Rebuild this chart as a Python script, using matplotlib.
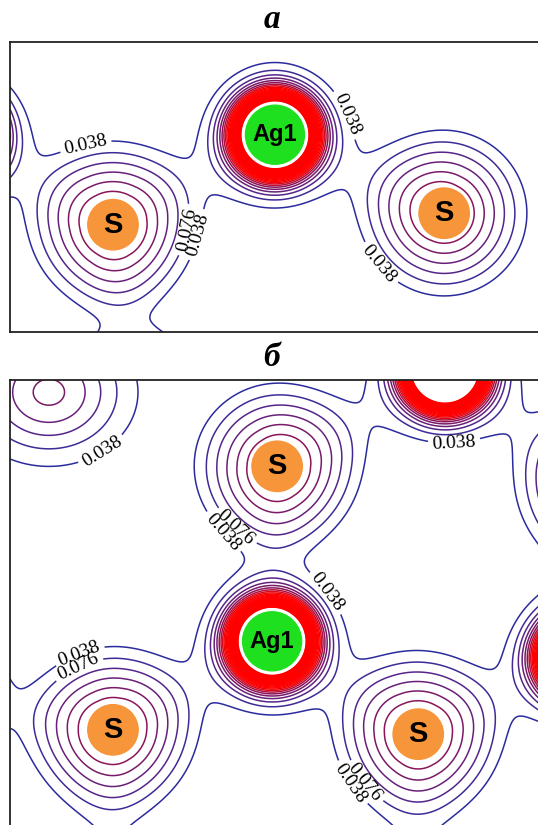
"""Electron density sections through the Ag-S layer (two planes)."""
import numpy as np
import matplotlib.pyplot as plt
from matplotlib.patches import Circle

plt.rcParams['font.family'] = ['Liberation Serif', 'DejaVu Serif']

# atom sites in the section planes, angstrom
# 'S*' is a sulfur slightly off the plane (no marker drawn)
a_kind = ['Ag', 'S', 'Ag', 'S', 'Ag']
a_x = [-0.76, 1.43, 3.68, 6.03, 1.74]
a_y = [2.74, 1.49, 2.74, 1.65, -1.01]
a_name = ['', 'S', 'Ag1', 'S', '']

b_kind = ['S*', 'S', 'Ag', 'S', 'Ag', 'Ag', 'S', 'S', 'Ag', 'Ag', 'Ag']
b_x = [0.54, 3.71, 6.04, 8.19, 3.64, 7.92, 1.43, 5.67, -1.11, 1.39, 5.63]
b_y = [6.22, 5.19, 6.54, 4.93, 2.76, 2.54, 1.53, 1.47, 2.08, -1.18, -1.18]
b_name = ['', 'S', '', '', 'Ag1', '', 'S', 'S', '', '', '']

# contour step, e/A^3
step = 0.038
n_levels = 30
levels = step * np.arange(1, n_levels + 1)

line_colors = ['#2b2b9e', '#402a96', '#55258a', '#68207a', '#7a1a68',
               '#8a1558', '#b0103c', '#d80a20', '#f00408'] + \
              ['#ff0000'] * (n_levels - 9)

# contour labels: (level index, x, y)
a_labels = [(0, 1.04, 2.64), (0, 4.65, 3.01), (1, 2.33, 1.44),
            (0, 2.60, 1.35), (0, 5.11, 0.93)]
b_labels = [(0, 1.22, 5.49), (0, 6.18, 5.35), (1, 3.19, 4.40),
            (0, 2.92, 4.24), (0, 4.44, 3.47), (0, 0.97, 2.57),
            (1, 0.97, 2.36), (1, 4.79, 0.69), (0, 4.51, 0.63)]


def seg_proj(X, Y, x0, y0, x1, y1):
    dx, dy = x1 - x0, y1 - y0
    t = np.clip(((X - x0) * dx + (Y - y0) * dy) / (dx * dx + dy * dy), 0, 1)
    return t, np.hypot(X - (x0 + t * dx), Y - (y0 + t * dy))


def density(X, Y, kinds, xs, ys):
    rho = np.zeros_like(X)
    for k, x, y in zip(kinds, xs, ys):
        r = np.hypot(X - x, Y - y)
        if k == 'Ag':
            rho += 23.5 * np.exp(-r / 0.156)
        elif k == 'S':
            # nearly conical S density with a soft edge
            rho += 0.0304 * np.logaddexp(0, (1.25 - r) / 0.111)
        else:
            rho += 0.20 * np.exp(-((X - x) / 0.96) ** 2 - ((Y - y) / 0.8) ** 2)
    # Ag-S bond density, strongest half way along the bond
    for i, (k1, x1, y1) in enumerate(zip(kinds, xs, ys)):
        for k2, x2, y2 in zip(kinds[i + 1:], xs[i + 1:], ys[i + 1:]):
            if {k1, k2} != {'Ag', 'S'}:
                continue
            if np.hypot(x2 - x1, y2 - y1) > 3.0:
                continue
            t, d = seg_proj(X, Y, x1, y1, x2, y2)
            rho += 0.03 * 4 * t * (1 - t) * np.exp(-(d / 0.6) ** 2)
    return rho


def draw_panel(ax, kinds, xs, ys, names, labels, width, height):
    gx = np.arange(-0.05, width + 0.05, 0.005)
    gy = np.arange(-0.05, height + 0.05, 0.005)
    X, Y = np.meshgrid(gx, gy)
    rho = density(X, Y, kinds, xs, ys)
    ax.contour(X, Y, rho, levels=levels[2:], colors=line_colors[2:],
               linewidths=1.1)
    # the two outer levels carry the labels
    for i in (0, 1):
        cs = ax.contour(X, Y, rho, levels=[levels[i]],
                        colors=[line_colors[i]], linewidths=1.1)
        pts = [(x, y) for j, x, y in labels if j == i]
        ax.clabel(cs, manual=pts, fmt='%.3f', fontsize=14,
                  colors='black', inline=True, inline_spacing=4)
    for k, x, y, name in zip(kinds, xs, ys, names):
        if not name:
            continue
        if k == 'Ag':
            ax.add_patch(Circle((x, y), 0.41, color='#1fe01f', zorder=4))
            fs = 17
        else:
            ax.add_patch(Circle((x, y), 0.35, color='#f7953a', zorder=4))
            fs = 21
        ax.text(x, y, name, ha='center', va='center', fontsize=fs,
                fontweight='bold', family='Liberation Sans', color='black',
                zorder=5)
    ax.set_xlim(0, width)
    ax.set_ylim(0, height)
    ax.set_xticks([])
    ax.set_yticks([])
    for sp in ax.spines.values():
        sp.set_linewidth(1.3)
        sp.set_color('#222222')


W, H = 538, 825
fig = plt.figure(figsize=(W / 100, H / 100), dpi=100)
px = 72.0  # pixels per angstrom

ax_a = fig.add_axes([10 / W, 1 - 332 / H, 538 / W, 290 / H])
draw_panel(ax_a, a_kind, a_x, a_y, a_name, a_labels, 538 / px, 290 / px)

ax_b = fig.add_axes([10 / W, 1 - 840 / H, 538 / W, 460 / H])
draw_panel(ax_b, b_kind, b_x, b_y, b_name, b_labels, 538 / px, 460 / px)

fig.text(272 / W, 1 - 20 / H, 'а', ha='center', va='center', fontsize=24,
         fontweight='bold', style='italic')
fig.text(272 / W, 1 - 358 / H, 'б', ha='center', va='center', fontsize=24,
         fontweight='bold', style='italic')

fig.savefig('out.png', dpi=100)
